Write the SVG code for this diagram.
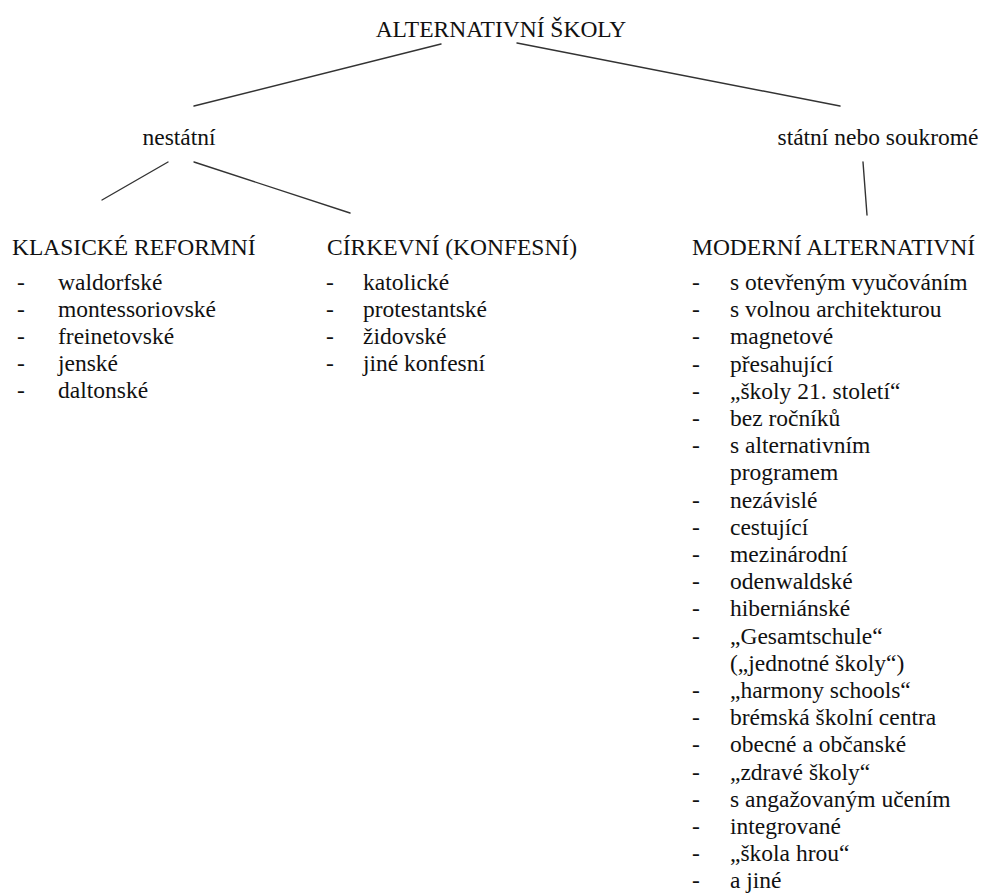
<svg xmlns="http://www.w3.org/2000/svg" width="989" height="894" viewBox="0 0 989 894" font-family="Liberation Serif, DejaVu Serif, serif">
<style>
text{font-family:'Liberation Serif','DejaVu Serif',serif;font-size:23.5px;fill:#111;}
.c line{stroke:#333;stroke-width:1.4;stroke-linecap:round;}
</style>
<rect width="989" height="894" fill="#fff"/>
<g class="c" id="connectors">
<line x1="441" y1="44" x2="194" y2="106"/>
<line x1="517" y1="43" x2="840" y2="106"/>
<line x1="168" y1="162" x2="102" y2="200"/>
<line x1="194" y1="162" x2="350" y2="213"/>
<line x1="863" y1="162" x2="867" y2="215"/>
</g>
<g id="root"><text x="501" y="37" text-anchor="middle">ALTERNATIVNÍ ŠKOLY</text></g>
<g id="nestatni"><text x="179" y="145" text-anchor="middle">nestátní</text></g>
<g id="statni"><text x="878" y="145" text-anchor="middle">státní nebo soukromé</text></g>
<g id="klasicke">
<text x="12" y="255">KLASICKÉ REFORMNÍ</text>
<text x="17" y="290">-</text><text x="58" y="290">waldorfské</text>
<text x="17" y="317">-</text><text x="58" y="317">montessoriovské</text>
<text x="17" y="344">-</text><text x="58" y="344">freinetovské</text>
<text x="17" y="371">-</text><text x="58" y="371">jenské</text>
<text x="17" y="398">-</text><text x="58" y="398">daltonské</text>
</g>
<g id="cirkevni">
<text x="327" y="255">CÍRKEVNÍ (KONFESNÍ)</text>
<text x="326" y="290">-</text><text x="363" y="290">katolické</text>
<text x="326" y="317">-</text><text x="363" y="317">protestantské</text>
<text x="326" y="344">-</text><text x="363" y="344">židovské</text>
<text x="326" y="371">-</text><text x="363" y="371">jiné konfesní</text>
</g>
<g id="moderni">
<text x="692" y="255">MODERNÍ ALTERNATIVNÍ</text>
<text x="692" y="290">-</text><text x="730" y="290">s otevřeným vyučováním</text>
<text x="692" y="317.2">-</text><text x="730" y="317.2">s volnou architekturou</text>
<text x="692" y="344.4">-</text><text x="730" y="344.4">magnetové</text>
<text x="692" y="371.6">-</text><text x="730" y="371.6">přesahující</text>
<text x="692" y="398.8">-</text><text x="730" y="398.8">„školy 21. století“</text>
<text x="692" y="426">-</text><text x="730" y="426">bez ročníků</text>
<text x="692" y="453.2">-</text><text x="730" y="453.2">s alternativním</text>
<text x="730" y="480.4">programem</text>
<text x="692" y="507.6">-</text><text x="730" y="507.6">nezávislé</text>
<text x="692" y="534.8">-</text><text x="730" y="534.8">cestující</text>
<text x="692" y="562">-</text><text x="730" y="562">mezinárodní</text>
<text x="692" y="589.2">-</text><text x="730" y="589.2">odenwaldské</text>
<text x="692" y="616.4">-</text><text x="730" y="616.4">hiberniánské</text>
<text x="692" y="643.6">-</text><text x="730" y="643.6">„Gesamtschule“</text>
<text x="730" y="670.8">(„jednotné školy“)</text>
<text x="692" y="698">-</text><text x="730" y="698">„harmony schools“</text>
<text x="692" y="725.2">-</text><text x="730" y="725.2">brémská školní centra</text>
<text x="692" y="752.4">-</text><text x="730" y="752.4">obecné a občanské</text>
<text x="692" y="779.6">-</text><text x="730" y="779.6">„zdravé školy“</text>
<text x="692" y="806.8">-</text><text x="730" y="806.8">s angažovaným učením</text>
<text x="692" y="834">-</text><text x="730" y="834">integrované</text>
<text x="692" y="861.2">-</text><text x="730" y="861.2">„škola hrou“</text>
<text x="692" y="888.4">-</text><text x="730" y="888.4">a jiné</text>
</g>
</svg>
